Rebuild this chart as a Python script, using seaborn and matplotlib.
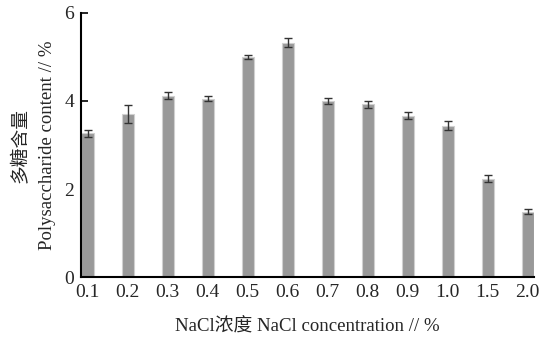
import matplotlib
matplotlib.use("Agg")
import matplotlib.pyplot as plt
import seaborn as sns
import pandas as pd

categories = ["0.1", "0.2", "0.3", "0.4", "0.5", "0.6", "0.7", "0.8", "0.9", "1.0", "1.5", "2.0"]
values = [3.27, 3.70, 4.12, 4.05, 5.00, 5.32, 4.00, 3.92, 3.66, 3.44, 2.23, 1.49]
errors = [0.08, 0.20, 0.08, 0.06, 0.05, 0.10, 0.07, 0.07, 0.08, 0.10, 0.08, 0.05]
yticks = [0, 2, 4, 6]

sns.set_theme(style="white")
plt.rcParams['font.family'] = ['Liberation Serif', 'Noto Sans CJK SC']

df = pd.DataFrame({"conc": categories, "val": values})

fig = plt.figure(figsize=(5.53, 3.38), dpi=100)
ax = fig.add_axes([0.147, 0.1796, 0.819, 0.7828])

sns.barplot(data=df, x="conc", y="val", order=categories, color="#999999",
            width=0.31, saturation=1, edgecolor="#d0d0d0", linewidth=0.8,
            errorbar=None, ax=ax)
ax.errorbar(range(len(categories)), values, yerr=errors, fmt="none",
            ecolor="#333333", elinewidth=1.0, capsize=3, capthick=1.0)

ax.set_xlim(-0.16, 11.16)
ax.set_ylim(0, 6)
ax.set_yticks(yticks)
ax.set_yticklabels([str(t) for t in yticks], fontsize=14)
ax.set_xticks(range(len(categories)))
ax.set_xticklabels(categories, fontsize=14)

for s in ["top", "right"]:
    ax.spines[s].set_visible(False)
for s in ["left", "bottom"]:
    ax.spines[s].set_color("black")
    ax.spines[s].set_linewidth(1.5)

ax.tick_params(axis="y", direction="in", length=5, width=1.2, color="black", pad=5, left=True)
ax.tick_params(axis="x", length=0, pad=5)

ax.set_xlabel("NaCl浓度 NaCl concentration // %", fontsize=13.5, labelpad=12)
ax.set_ylabel("多糖含量\nPolysaccharide content // %", fontsize=13.5, labelpad=6, linespacing=1.7)

fig.savefig("out.png", dpi=100)
